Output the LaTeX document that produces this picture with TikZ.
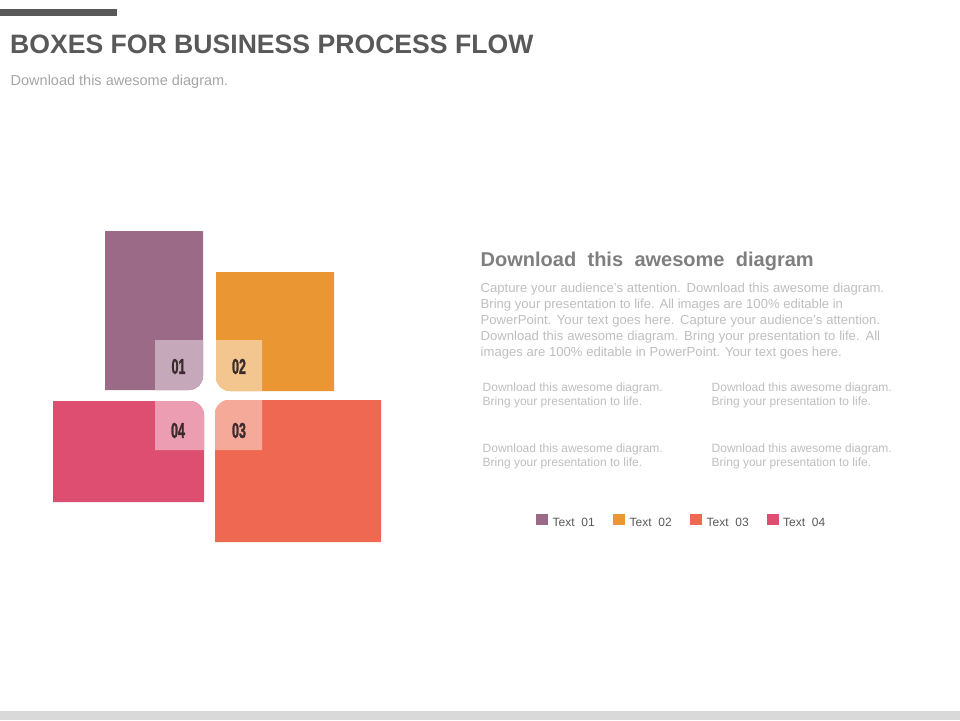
\documentclass[tikz,border=0pt]{standalone}
\usepackage{fontspec}
\usepackage{graphicx}
\setmainfont{Liberation Sans}
\newfontfamily\numfont{Liberation Sans}[FakeStretch=0.58, FakeBold=1.2]
\definecolor{cP}{HTML}{9A6A86}
\definecolor{cPl}{HTML}{C5A9BB}
\definecolor{cO}{HTML}{EA9633}
\definecolor{cOl}{HTML}{F3C58F}
\definecolor{cR}{HTML}{DE4E71}
\definecolor{cRl}{HTML}{EC9DB2}
\definecolor{cC}{HTML}{EF6851}
\definecolor{cCl}{HTML}{F5A999}
\definecolor{cNum}{HTML}{3B2B2B}
\definecolor{cTitle}{HTML}{595959}
\definecolor{cSub}{HTML}{A6A6A6}
\definecolor{cHead}{HTML}{7F7F7F}
\definecolor{cPara}{HTML}{BFBFBF}
\definecolor{cBar}{HTML}{D9D9D9}
\tikzset{
  txt/.style={inner sep=0pt, anchor=base west},
  paraline/.style={txt, text=cPara, font=\fontsize{13.1}{16}\selectfont},
  smalltxt/.style={txt, text=cPara, font=\fontsize{12}{14}\selectfont},
  numlabel/.style={inner sep=0pt, anchor=center, text=cNum, font=\fontsize{21.5}{21.5}\selectfont\numfont\bfseries},
  legsq/.style={inner sep=0pt, minimum width=12pt, minimum height=11pt},
  legtxt/.style={txt, text=cTitle, font=\fontsize{12}{14}\selectfont}
}
\begin{document}
\begin{tikzpicture}[x=1pt,y=-1pt]
\useasboundingbox[fill=white] (0,0) rectangle (960,720);
% bars
\fill[cTitle] (0,8.5) rectangle (116.5,15.5);
\fill[cBar] (0,711) rectangle (960,720);
% titles
\node[txt, text=cTitle, font=\fontsize{26.6}{30}\selectfont\bfseries] (title) at (10,53.5) {BOXES FOR BUSINESS PROCESS FLOW};
\node[txt, text=cSub, font=\fontsize{14.5}{17}\selectfont] (subtitle) at (10.5,85) {Download this awesome diagram.};
% boxes
\def\r{14}
\fill[cP] (105,231) -- (203,231) -- (203,390-\r) arc[start angle=0,end angle=90,radius=\r] -- (105,390) -- cycle;
\fill[cPl] (155,340) -- (203,340) -- (203,390-\r) arc[start angle=0,end angle=90,radius=\r] -- (155,390) -- cycle;
\fill[cO] (216,272) -- (334,272) -- (334,391) -- (216+\r,391) arc[start angle=90,end angle=180,radius=\r] -- cycle;
\fill[cOl] (216,340) -- (262,340) -- (262,391) -- (216+\r,391) arc[start angle=90,end angle=180,radius=\r] -- cycle;
\fill[cR] (53,401) -- (204-\r,401) arc[start angle=270,end angle=360,radius=\r] -- (204,502) -- (53,502) -- cycle;
\fill[cRl] (155,401) -- (204-\r,401) arc[start angle=270,end angle=360,radius=\r] -- (204,450) -- (155,450) -- cycle;
\fill[cC] (215,400+\r) arc[start angle=180,end angle=270,radius=\r] -- (381,400) -- (381,542) -- (215,542) -- cycle;
\fill[cCl] (215,400+\r) arc[start angle=180,end angle=270,radius=\r] -- (262,400) -- (262,450) -- (215,450) -- cycle;
% numbers
\node[numlabel] (n1) at (178.5,366.5) {01};
\node[numlabel] (n2) at (239,366.5) {02};
\node[numlabel] (n3) at (239,430.5) {03};
\node[numlabel] (n4) at (178,430.5) {04};
% heading and paragraph
\node[txt, text=cHead, font=\fontsize{20}{24}\selectfont\bfseries] (head) at (480.5,266) {\makebox[333pt][s]{Download this awesome diagram}};
\node[paraline] (p1) at (480.5,292) {\makebox[403.5pt][s]{Capture your audience’s attention. Download this awesome diagram.}};
\node[paraline] (p2) at (480.5,308) {Bring your presentation to life. All images are 100\% editable in};
\node[paraline] (p3) at (480.5,324) {\makebox[399.5pt][s]{PowerPoint. Your text goes here. Capture your audience’s attention.}};
\node[paraline] (p4) at (480.5,340) {\makebox[399.5pt][s]{Download this awesome diagram. Bring your presentation to life. All}};
\node[paraline] (p5) at (480.5,356) {images are 100\% editable in PowerPoint. Your text goes here.};
% small text blocks
\node[smalltxt] (s1a) at (482.5,391.5) {Download this awesome diagram.};
\node[smalltxt] (s1b) at (482.5,405.5) {Bring your presentation to life.};
\node[smalltxt] (s2a) at (711.5,391.5) {Download this awesome diagram.};
\node[smalltxt] (s2b) at (711.5,405.5) {Bring your presentation to life.};
\node[smalltxt] (s3a) at (482.5,452.5) {Download this awesome diagram.};
\node[smalltxt] (s3b) at (482.5,466.5) {Bring your presentation to life.};
\node[smalltxt] (s4a) at (711.5,452.5) {Download this awesome diagram.};
\node[smalltxt] (s4b) at (711.5,466.5) {Bring your presentation to life.};
% legend
\node[legsq, fill=cP] (l1) at (541.5,519.8) {};
\node[legsq, fill=cO] (l2) at (618.5,519.8) {};
\node[legsq, fill=cC] (l3) at (695.5,519.8) {};
\node[legsq, fill=cR] (l4) at (773,519.8) {};
\node[legtxt] (t1) at (552.5,526) {Text\ \ 01};
\node[legtxt] (t2) at (629.5,526) {Text\ \ 02};
\node[legtxt] (t3) at (706.5,526) {Text\ \ 03};
\node[legtxt] (t4) at (783,526) {Text\ \ 04};
\end{tikzpicture}
\end{document}
